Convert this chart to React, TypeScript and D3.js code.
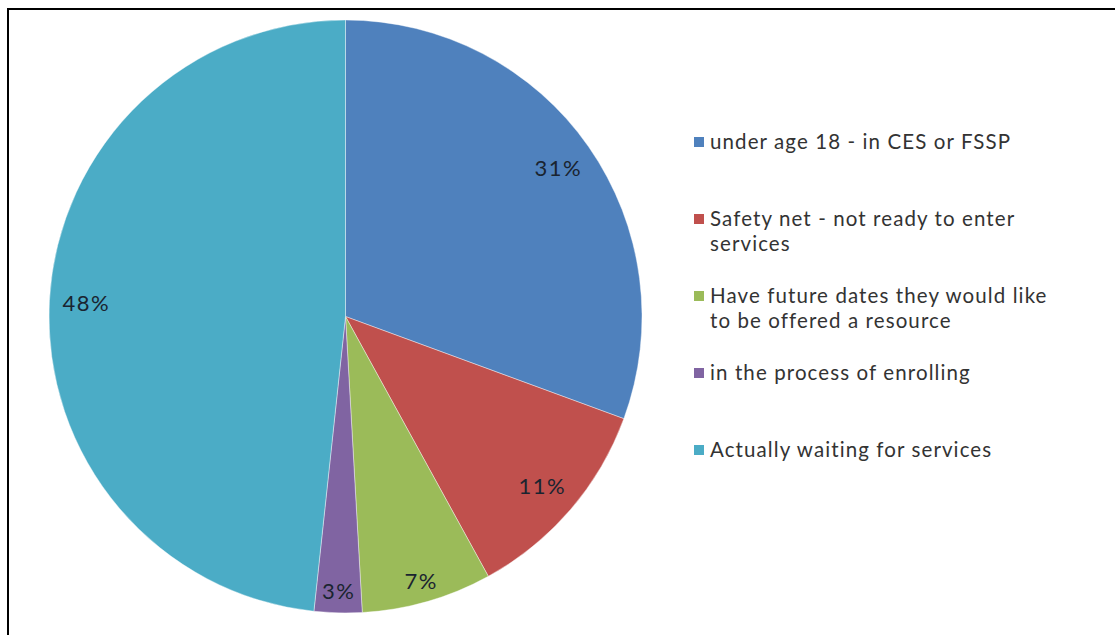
import React from "react";
import * as d3 from "d3";

const categories: string[][] = [
  ["under age 18 - in CES or FSSP"],
  ["Safety net - not ready to enter", "services"],
  ["Have future dates they would like", "to be offered a resource"],
  ["in the process of enrolling"],
  ["Actually waiting for services"],
];
const values: number[] = [30.6, 11.4, 7.1, 2.6, 48.3];
const colors: string[] = ["#4F81BD", "#C0504D", "#9BBB59", "#8064A2", "#4BACC6"];

const W = 1115;
const H = 635;
const cx = 345.5;
const cy = 316.5;
const R = 296.5;

export default function App() {
  const pie = d3
    .pie<number>()
    .sort(null)
    .value((d) => d)
    .startAngle(0)
    .endAngle(2 * Math.PI);
  const arcs = pie(values);
  const arcGen = d3.arc<d3.PieArcDatum<number>>().innerRadius(0).outerRadius(R);
  const total = d3.sum(values);

  const legendX = 694;
  const legendY0 = 149;
  const legendStep = 77;
  const lineH = 25;

  return (
    <svg
      width={W}
      height={H}
      style={{ position: "absolute", left: 0, top: 0, background: "#fff" }}
    >
      <rect x={0} y={0} width={W} height={H} fill="#fff" />
      <line x1={7} y1={9} x2={W} y2={9} stroke="#000" strokeWidth={2} />
      <line x1={8} y1={8} x2={8} y2={H} stroke="#000" strokeWidth={2} />
      <g transform={`translate(${cx},${cy})`}>
        {arcs.map((a, i) => (
          <path
            key={i}
            d={arcGen(a) || ""}
            fill={colors[i]}
            stroke="#ffffff"
            strokeOpacity={0.5}
            strokeWidth={0.8}
          />
        ))}
        {arcs.map((a, i) => {
          const span = a.endAngle - a.startAngle;
          const lr = span < 0.5 ? R - 22 : R - 37;
          const mid = (a.startAngle + a.endAngle) / 2;
          const x = lr * Math.sin(mid);
          const y = -lr * Math.cos(mid);
          return (
            <text
              key={"l" + i}
              x={x}
              y={y}
              textAnchor="middle"
              dominantBaseline="central"
              fontFamily="Lato, 'Open Sans', sans-serif"
              fontSize={22}
              letterSpacing={1.5}
              fill="#1a2430"
            >
              {`${Math.round((values[i] / total) * 100)}%`}
            </text>
          );
        })}
      </g>
      <g>
        {categories.map((lines, i) => {
          const by = legendY0 + i * legendStep;
          return (
            <g key={"lg" + i}>
              <rect x={legendX} y={by - 12} width={10} height={10} fill={colors[i]} />
              {lines.map((t, j) => (
                <text
                  key={j}
                  x={legendX + 16}
                  y={by + j * lineH}
                  fontFamily="Lato, 'Open Sans', sans-serif"
                  fontSize={20.5}
                  letterSpacing={1.1}
                  fill="#333333"
                >
                  {t}
                </text>
              ))}
            </g>
          );
        })}
      </g>
    </svg>
  );
}
